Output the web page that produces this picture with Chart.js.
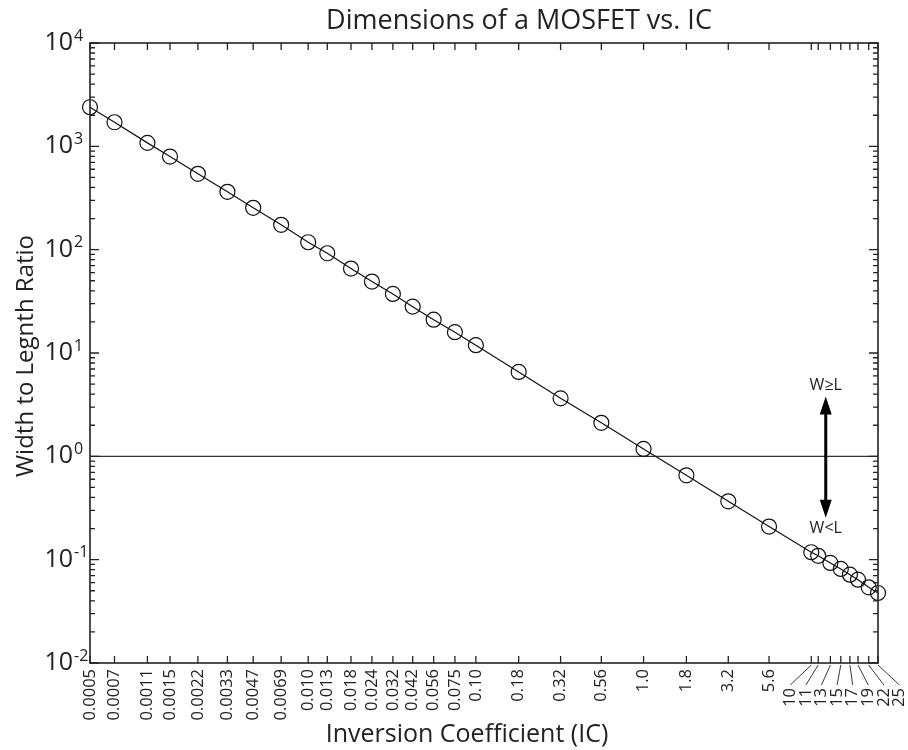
<!DOCTYPE html>
<html lang="en">
<head>
  <meta charset="UTF-8" />
  <title>Dimensions of a MOSFET vs. IC</title>
  <script src="https://cdn.jsdelivr.net/npm/chart.js@4"></script>
  <style>
    html, body { margin: 0; padding: 0; background: #fff; }
  </style>
</head>
<body>
  <canvas id="mosfetChart" width="908" height="750"></canvas>

  <script>
    // Inversion coefficient values (x) and their printed tick labels
    const icValues = [0.0005, 0.0007, 0.0011, 0.0015, 0.0022, 0.0033, 0.0047, 0.0069,
      0.010, 0.013, 0.018, 0.024, 0.032, 0.042, 0.056, 0.075, 0.10, 0.18, 0.32, 0.56,
      1.0, 1.8, 3.2, 5.6, 10, 11, 13, 15, 17, 19, 22, 25];
    const icLabels = ['0.0005', '0.0007', '0.0011', '0.0015', '0.0022', '0.0033', '0.0047', '0.0069',
      '0.010', '0.013', '0.018', '0.024', '0.032', '0.042', '0.056', '0.075', '0.10', '0.18', '0.32', '0.56',
      '1.0', '1.8', '3.2', '5.6', '10', '11', '13', '15', '17', '19', '22', '25'];

    // Width to length ratio
    const wlRatio = [2390, 1710, 1080, 796, 542, 363, 254, 174,
      118, 92.3, 65.6, 49.1, 37.3, 28.1, 21.0, 15.9, 11.9, 6.56, 3.64, 2.11,
      1.18, 0.655, 0.367, 0.209, 0.118, 0.109, 0.0929, 0.0813, 0.0716, 0.064, 0.054, 0.0476];

    // y axis decades (exponents of 10)
    const yDecades = [-2, -1, 0, 1, 2, 3, 4];

    // labels from this IC value on are fanned out with leader lines
    const crowdedFrom = 10;

    // W>=L / W<L arrow, in data units
    const arrowIC = 12.2;
    const arrowTop = 3.8;
    const arrowBottom = 0.255;
    const labelAbove = 4.9;
    const labelBelow = 0.2;

    const FONT = '"Open Sans", "Noto Sans", sans-serif';
    const INK = '#222';

    const decorPlugin = {
      id: 'decor',
      beforeDatasetsDraw(chart) {
        const { ctx, chartArea: a, scales: { y } } = chart;
        // reference line at W/L = 1
        const y1 = y.getPixelForValue(1);
        ctx.save();
        ctx.strokeStyle = '#333';
        ctx.lineWidth = 1.2;
        ctx.beginPath();
        ctx.moveTo(a.left, y1);
        ctx.lineTo(a.right, y1);
        ctx.stroke();
        ctx.restore();
      },
      afterDraw(chart) {
        const { ctx, chartArea: a, scales: { x, y } } = chart;
        ctx.save();

        // frame
        ctx.strokeStyle = INK;
        ctx.lineWidth = 1.6;
        ctx.strokeRect(a.left, a.top, a.right - a.left, a.bottom - a.top);

        // y ticks (inward, both sides)
        ctx.lineWidth = 1.3;
        ctx.beginPath();
        yDecades.forEach(d => {
          const base = Math.pow(10, d);
          const py = y.getPixelForValue(base);
          ctx.moveTo(a.left, py); ctx.lineTo(a.left + 9, py);
          ctx.moveTo(a.right, py); ctx.lineTo(a.right - 9, py);
          if (d < 4) {
            for (let m = 2; m <= 9; m++) {
              const pm = y.getPixelForValue(base * m);
              ctx.moveTo(a.left, pm); ctx.lineTo(a.left + 5, pm);
              ctx.moveTo(a.right, pm); ctx.lineTo(a.right - 5, pm);
            }
          }
        });
        // x ticks at each IC value (inward, bottom and top)
        icValues.forEach(v => {
          const px = x.getPixelForValue(v);
          ctx.moveTo(px, a.bottom); ctx.lineTo(px, a.bottom - 7);
          ctx.moveTo(px, a.top); ctx.lineTo(px, a.top + 7);
        });
        ctx.stroke();

        // y tick labels 10^n
        ctx.fillStyle = INK;
        ctx.textBaseline = 'middle';
        yDecades.forEach(d => {
          const py = y.getPixelForValue(Math.pow(10, d));
          ctx.font = '25px ' + FONT;
          ctx.textAlign = 'right';
          ctx.fillText('10', a.left - 17, py);
          ctx.font = '16px ' + FONT;
          ctx.textAlign = 'left';
          ctx.fillText(String(d), a.left - 16, py - 7);
        });

        // x tick labels, rotated
        ctx.font = '16.5px ' + FONT;
        ctx.textAlign = 'right';
        ctx.textBaseline = 'middle';
        const slotStart = x.getPixelForValue(crowdedFrom) - 21;
        let k = 0;
        icValues.forEach((v, i) => {
          const px = x.getPixelForValue(v);
          let lx = px, ly = a.bottom + 6;
          if (v >= crowdedFrom) {
            lx = slotStart + k * 15.6;
            ly = a.bottom + 25;
            k++;
            ctx.lineWidth = 0.9;
            ctx.beginPath();
            ctx.moveTo(px, a.bottom + 2);
            ctx.lineTo(lx, a.bottom + 22);
            ctx.stroke();
          }
          ctx.save();
          ctx.translate(lx, ly);
          ctx.rotate(-Math.PI / 2);
          ctx.fillText(icLabels[i], 0, 0);
          ctx.restore();
        });

        // W>=L / W<L double arrow
        const ax = x.getPixelForValue(arrowIC);
        const top = y.getPixelForValue(arrowTop);
        const bot = y.getPixelForValue(arrowBottom);
        ctx.strokeStyle = '#000';
        ctx.fillStyle = '#000';
        ctx.lineWidth = 3;
        ctx.beginPath();
        ctx.moveTo(ax, top + 12);
        ctx.lineTo(ax, bot - 12);
        ctx.stroke();
        ctx.beginPath();
        ctx.moveTo(ax, top); ctx.lineTo(ax - 6, top + 18); ctx.lineTo(ax + 6, top + 18); ctx.closePath();
        ctx.moveTo(ax, bot); ctx.lineTo(ax - 6, bot - 18); ctx.lineTo(ax + 6, bot - 18); ctx.closePath();
        ctx.fill();

        ctx.fillStyle = INK;
        ctx.font = '16px ' + FONT;
        ctx.textAlign = 'center';
        ctx.textBaseline = 'middle';
        ctx.fillText('W\u2265L', ax, y.getPixelForValue(labelAbove));
        ctx.fillText('W<L', ax, y.getPixelForValue(labelBelow));

        // titles
        ctx.textBaseline = 'alphabetic';
        ctx.font = '27px ' + FONT;
        ctx.fillText('Dimensions of a MOSFET vs. IC', 519, 29);
        ctx.font = '25px ' + FONT;
        ctx.fillText('Inversion Coefficient (IC)', 467, 742);
        ctx.save();
        ctx.translate(33, (a.top + a.bottom) / 2 + 3);
        ctx.rotate(-Math.PI / 2);
        ctx.font = '24px ' + FONT;
        ctx.fillText('Width to Legnth Ratio', 0, 0);
        ctx.restore();

        ctx.restore();
      }
    };

    const ctx = document.getElementById('mosfetChart').getContext('2d');
    const mosfetChart = new Chart(ctx, {
      type: 'scatter',
      data: {
        datasets: [{
          label: 'W/L',
          data: icValues.map((v, i) => ({ x: v, y: wlRatio[i] })),
          showLine: true,
          borderColor: '#111',
          borderWidth: 1.2,
          pointStyle: 'circle',
          pointRadius: 7.5,
          pointBorderWidth: 1.2,
          pointBorderColor: '#111',
          pointBackgroundColor: 'rgba(0,0,0,0)',
          clip: false
        }]
      },
      options: {
        responsive: false,
        animation: false,
        devicePixelRatio: 1,
        layout: { padding: { left: 90, right: 30, top: 43, bottom: 87 } },
        plugins: {
          legend: { display: false },
          tooltip: { enabled: false }
        },
        scales: {
          x: { type: 'logarithmic', min: 0.0005, max: 25, bounds: 'data', display: false },
          y: { type: 'logarithmic', min: 0.01, max: 10000, bounds: 'data', display: false }
        }
      },
      plugins: [decorPlugin]
    });
  </script>
</body>
</html>
